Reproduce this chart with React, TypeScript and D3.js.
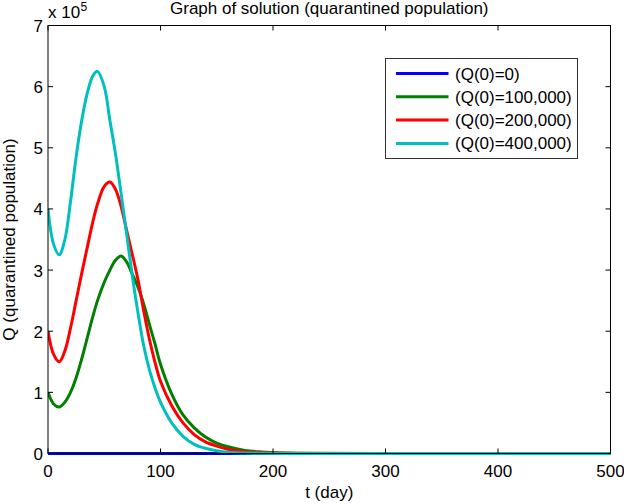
import React from "react";
import * as d3 from "d3";

const tDays = [0, 5, 10, 15, 20, 25, 30, 35, 40, 44, 50, 55, 60, 65, 70, 75, 80, 85, 90, 95, 100, 110, 120, 130, 140, 150, 160, 175, 190, 210, 240, 300, 400, 500];

// values in units of 1e5
const q0 = [0, 0, 0, 0, 0, 0, 0, 0, 0, 0, 0, 0, 0, 0, 0, 0, 0, 0, 0, 0, 0, 0, 0, 0, 0, 0, 0, 0, 0, 0, 0, 0, 0, 0];
const q100k = [1.0, 0.81, 0.76, 0.84, 1.0, 1.24, 1.55, 1.9, 2.25, 2.5, 2.8, 3.0, 3.16, 3.23, 3.13, 2.93, 2.72, 2.45, 2.12, 1.8, 1.46, 0.97, 0.63, 0.42, 0.27, 0.17, 0.11, 0.05, 0.025, 0.01, 0.003, 0.0005, 0, 0];
const q200k = [2.0, 1.62, 1.5, 1.68, 2.05, 2.5, 2.95, 3.38, 3.8, 4.08, 4.37, 4.44, 4.32, 4.04, 3.64, 3.25, 2.84, 2.34, 1.88, 1.5, 1.18, 0.78, 0.5, 0.31, 0.19, 0.12, 0.07, 0.03, 0.012, 0.004, 0.001, 0.0002, 0, 0];
const q400k = [4.0, 3.42, 3.25, 3.5, 4.12, 4.85, 5.45, 5.9, 6.18, 6.25, 6.0, 5.45, 4.9, 4.25, 3.58, 2.9, 2.3, 1.77, 1.38, 1.08, 0.84, 0.5, 0.28, 0.15, 0.085, 0.045, 0.02, 0.008, 0.003, 0.001, 0.0002, 0, 0, 0];

const seriesNames = ["(Q(0)=0)", "(Q(0)=100,000)", "(Q(0)=200,000)", "(Q(0)=400,000)"];
const seriesColors = ["#0000ff", "#008000", "#ff0000", "#00bfbf"];
const seriesValues = [q0, q100k, q200k, q400k];

const xTicks = [0, 100, 200, 300, 400, 500];
const yTicks = [0, 1, 2, 3, 4, 5, 6, 7];

const FONT = "'Liberation Sans', Arial, Helvetica, sans-serif";

export default function App() {
  const W = 624, H = 504;
  const left = 48, right = 610.5, top = 25.5, bottom = 453.5;
  const x = d3.scaleLinear().domain([0, 500]).range([left, right]);
  const y = d3.scaleLinear().domain([0, 7]).range([bottom, top]);
  const line = d3
    .line<number>()
    .x((_, i) => x(tDays[i]))
    .y((d) => y(Math.max(0, d)))
    .curve(d3.curveCatmullRom.alpha(0.5));

  const tickLen = 5;
  const legX = 385.5, legY = 58.5, legW = 192, legH = 100;
  const rowH = 23.3;
  const fs = 17;

  return (
    <svg width={W} height={H} style={{ position: "absolute", left: 0, top: 0, background: "#fff" }} fontFamily={FONT}>
      <rect x={0} y={0} width={W} height={H} fill="#fff" />
      <defs>
        <clipPath id="plotclip">
          <rect x={left} y={top} width={right - left} height={bottom - top + 2} />
        </clipPath>
      </defs>
      {/* series */}
      <g clipPath="url(#plotclip)">
        {seriesValues.map((vals, k) => (
          <path key={k} d={line(vals) || ""} fill="none" stroke={seriesColors[k]} strokeWidth={3} strokeLinejoin="round" />
        ))}
      </g>
      {/* box */}
      <rect x={left} y={top} width={right - left} height={bottom - top} fill="none" stroke="#000" strokeWidth={1} />
      {/* x ticks */}
      {xTicks.map((t) => (
        <g key={"x" + t}>
          <line x1={x(t)} x2={x(t)} y1={bottom} y2={bottom - tickLen} stroke="#000" />
          <line x1={x(t)} x2={x(t)} y1={top} y2={top + tickLen} stroke="#000" />
          <text x={x(t)} y={477} textAnchor="middle" fontSize={fs} fill="#000">
            {t}
          </text>
        </g>
      ))}
      {/* y ticks */}
      {yTicks.map((v) => (
        <g key={"y" + v}>
          <line x1={left} x2={left + tickLen} y1={y(v)} y2={y(v)} stroke="#000" />
          <line x1={right} x2={right - tickLen} y1={y(v)} y2={y(v)} stroke="#000" />
          <text x={43} y={y(v) + 6.5} textAnchor="end" fontSize={fs} fill="#000">
            {v}
          </text>
        </g>
      ))}
      {/* exponent */}
      <text x={48} y={17.5} fontSize={fs} fill="#000">
        x 10
      </text>
      <text x={80.5} y={10.5} fontSize={12} fill="#000">
        5
      </text>
      {/* title */}
      <text x={(left + right) / 2} y={14} textAnchor="middle" fontSize={fs} fill="#000">
        Graph of solution (quarantined population)
      </text>
      {/* axis labels */}
      <text x={(left + right) / 2} y={498} textAnchor="middle" fontSize={fs} fill="#000">
        t (day)
      </text>
      <text transform={`translate(15,${(top + bottom) / 2}) rotate(-90)`} textAnchor="middle" fontSize={fs} fill="#000">
        Q (quarantined population)
      </text>
      {/* legend */}
      <rect x={legX} y={legY} width={legW} height={legH} fill="#fff" stroke="#333" strokeWidth={1} />
      {seriesNames.map((name, k) => {
        const cy = legY + 15 + k * rowH;
        return (
          <g key={name}>
            <line x1={396} x2={448.5} y1={cy} y2={cy} stroke={seriesColors[k]} strokeWidth={3} />
            <text x={455} y={cy + 6} fontSize={fs} fill="#000">
              {name}
            </text>
          </g>
        );
      })}
    </svg>
  );
}
